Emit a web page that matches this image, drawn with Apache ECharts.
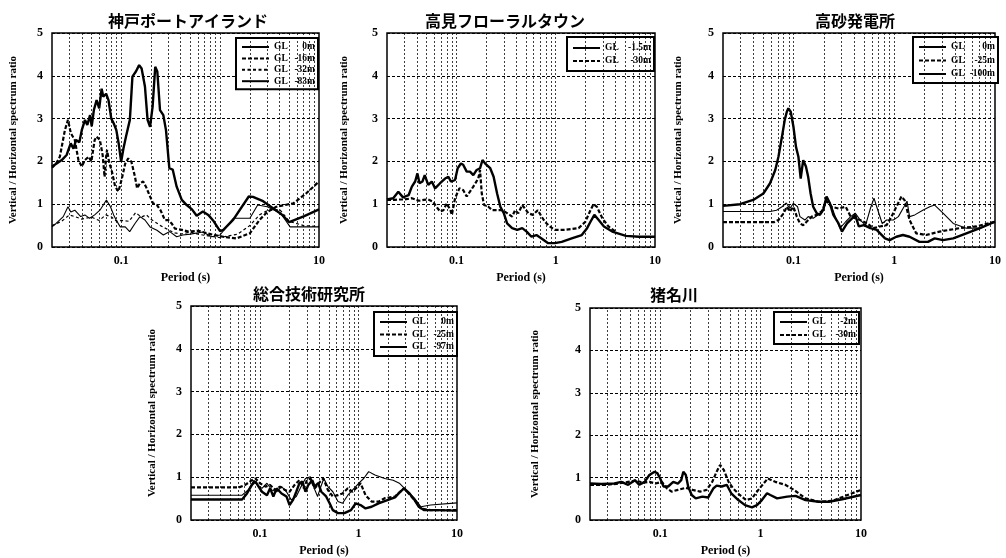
<!DOCTYPE html>
<html><head><meta charset="utf-8">
<script src="https://cdn.jsdelivr.net/npm/echarts@6/dist/echarts.min.js"></script>
<style>html,body{margin:0;padding:0;background:#fff}#c{width:1006px;height:558px}</style>
</head><body><div id="c"></div>
<script>
// ---------- tick labels / text ----------
const titles = ['神戸ポートアイランド', '高見フローラルタウン', '高砂発電所', '総合技術研究所', '猪名川'];
const xTickLabels = ['0.1', '1', '10'];
const yTicks = [0, 1, 2, 3, 4, 5];
const xName = 'Period (s)';
const yName = 'Vertical / Horizontal spectrum ratio';

const kobeNames = ['GL 0m', 'GL -16m', 'GL -32m', 'GL -83m'];
const takamiNames = ['GL -1.5m', 'GL -30m'];
const takasagoNames = ['GL 0m', 'GL -25m', 'GL -100m'];
const sogoNames = ['GL 0m', 'GL -25m', 'GL -97m'];
const inagawaNames = ['GL -2m', 'GL -30m'];

// ---------- data: [period (s), ratio] ----------
const kobe_GL0 = [[0.02,1.88],[0.0223,1.95],[0.0251,2.03],[0.0281,2.15],[0.0309,2.42],[0.033,2.3],[0.035,2.5],[0.0378,2.45],[0.04,2.73],[0.0431,2.97],[0.0455,2.85],[0.0485,3.08],[0.0504,2.82],[0.053,3.2],[0.0565,3.43],[0.06,3.24],[0.0635,3.7],[0.066,3.51],[0.0705,3.58],[0.0745,3.43],[0.0795,3.0],[0.084,2.89],[0.0894,2.73],[0.0944,2.42],[0.1,1.99],[0.1055,2.3],[0.112,2.58],[0.1225,2.97],[0.13,3.98],[0.141,4.1],[0.152,4.25],[0.161,4.17],[0.174,3.75],[0.185,2.97],[0.196,2.81],[0.208,3.28],[0.221,4.21],[0.232,4.1],[0.247,3.2],[0.267,3.08],[0.284,2.73],[0.307,1.84],[0.332,1.81],[0.364,1.41],[0.41,1.1],[0.46,0.98],[0.52,0.88],[0.58,0.73],[0.67,0.83],[0.76,0.75],[0.85,0.62],[1.0,0.37],[1.08,0.4],[1.36,0.64],[1.95,1.18],[2.15,1.17],[2.72,1.07],[3.4,0.91],[4.2,0.76],[5.0,0.58],[7.1,0.72],[10,0.88]];
const kobe_GL16 = [[0.02,1.85],[0.022,1.95],[0.024,2.11],[0.027,2.73],[0.029,2.97],[0.031,2.66],[0.034,2.5],[0.037,2.03],[0.04,1.88],[0.043,2.03],[0.047,2.11],[0.05,2.0],[0.054,2.5],[0.0565,2.58],[0.061,2.5],[0.065,2.15],[0.068,1.64],[0.0705,2.11],[0.072,2.27],[0.076,1.95],[0.08,1.8],[0.087,1.41],[0.094,1.3],[0.101,1.57],[0.11,1.95],[0.118,2.07],[0.127,1.99],[0.138,1.64],[0.145,1.37],[0.155,1.49],[0.167,1.53],[0.178,1.41],[0.196,1.18],[0.21,1.02],[0.23,0.98],[0.25,0.86],[0.277,0.63],[0.3,0.63],[0.324,0.55],[0.35,0.43],[0.41,0.4],[0.48,0.36],[0.6,0.38],[0.8,0.3],[1.07,0.24],[1.46,0.2],[2.0,0.32],[2.5,0.63],[3.0,0.82],[3.7,0.94],[5.5,1.02],[7.4,1.25],[10,1.53]];
const kobe_GL32 = [[0.02,0.5],[0.025,0.6],[0.03,0.75],[0.035,0.7],[0.04,0.65],[0.05,0.7],[0.06,0.62],[0.07,0.75],[0.08,0.7],[0.09,0.6],[0.1,0.62],[0.12,0.6],[0.14,0.8],[0.16,0.7],[0.18,0.75],[0.2,0.65],[0.25,0.5],[0.3,0.4],[0.35,0.33],[0.4,0.3],[0.5,0.35],[0.6,0.3],[0.8,0.25],[1.0,0.22],[1.5,0.3],[2.0,0.5],[2.5,0.75],[3.0,0.85],[4.0,0.88],[5.0,0.6],[7.0,0.5],[10,0.48]];
const kobe_GL83 = [[0.02,0.47],[0.022,0.55],[0.026,0.71],[0.029,0.94],[0.031,0.82],[0.034,0.86],[0.039,0.71],[0.043,0.75],[0.048,0.67],[0.054,0.75],[0.061,0.86],[0.066,0.98],[0.071,1.1],[0.078,0.94],[0.084,0.75],[0.089,0.63],[0.098,0.47],[0.11,0.47],[0.122,0.36],[0.138,0.55],[0.155,0.71],[0.174,0.63],[0.196,0.47],[0.23,0.39],[0.267,0.28],[0.31,0.36],[0.364,0.24],[0.42,0.28],[0.5,0.3],[0.67,0.35],[0.82,0.24],[1.0,0.28],[1.36,0.67],[2.0,0.67],[2.4,0.98],[3.0,0.94],[4.1,0.79],[5.1,0.47],[10,0.47]];

const takami_GL15 = [[0.02,1.11],[0.0231,1.14],[0.026,1.29],[0.029,1.16],[0.033,1.21],[0.0356,1.41],[0.0384,1.53],[0.0405,1.72],[0.0425,1.49],[0.0455,1.53],[0.048,1.68],[0.052,1.45],[0.0565,1.53],[0.061,1.37],[0.0685,1.49],[0.0769,1.6],[0.083,1.64],[0.088,1.53],[0.097,1.57],[0.103,1.84],[0.111,1.95],[0.117,1.92],[0.127,1.76],[0.137,1.76],[0.148,1.68],[0.16,1.8],[0.173,1.84],[0.183,2.03],[0.195,1.95],[0.219,1.84],[0.237,1.64],[0.257,1.25],[0.277,0.94],[0.3,0.79],[0.324,0.55],[0.364,0.44],[0.41,0.4],[0.46,0.44],[0.51,0.36],[0.57,0.24],[0.64,0.28],[0.72,0.2],[0.84,0.09],[0.98,0.09],[1.15,0.12],[1.45,0.2],[1.83,0.28],[2.07,0.44],[2.24,0.59],[2.45,0.75],[2.71,0.63],[3.06,0.48],[3.71,0.36],[5.1,0.26],[6.9,0.24],[10,0.24]];
const takami_GL30 = [[0.02,1.1],[0.024,1.1],[0.026,1.11],[0.03,1.11],[0.0356,1.14],[0.042,1.08],[0.047,1.1],[0.052,1.11],[0.058,1.06],[0.063,0.94],[0.0685,0.83],[0.074,0.86],[0.08,1.02],[0.087,0.86],[0.09,0.75],[0.094,0.98],[0.097,1.14],[0.107,1.37],[0.117,1.33],[0.127,1.18],[0.148,1.41],[0.166,1.6],[0.173,1.8],[0.18,1.25],[0.19,0.98],[0.21,0.94],[0.23,0.86],[0.257,0.86],[0.29,0.86],[0.324,0.79],[0.364,0.71],[0.39,0.86],[0.42,0.79],[0.46,0.98],[0.49,0.9],[0.53,0.79],[0.59,0.75],[0.66,0.86],[0.72,0.71],[0.78,0.59],[0.87,0.48],[0.98,0.4],[1.24,0.4],[1.7,0.44],[1.99,0.59],[2.24,0.86],[2.4,1.0],[2.6,0.94],[2.95,0.67],[3.4,0.48],[4.0,0.36]];

const takasago_GL0 = [[0.02,0.96],[0.0295,1.0],[0.0399,1.1],[0.0503,1.25],[0.0586,1.49],[0.066,1.8],[0.071,2.11],[0.077,2.58],[0.082,2.97],[0.086,3.16],[0.089,3.24],[0.094,3.16],[0.1,2.81],[0.106,2.34],[0.112,2.11],[0.118,1.6],[0.125,2.03],[0.133,1.88],[0.14,1.64],[0.148,1.25],[0.157,0.94],[0.17,0.79],[0.183,0.75],[0.197,0.86],[0.213,1.18],[0.23,1.02],[0.249,0.75],[0.28,0.55],[0.303,0.36],[0.34,0.55],[0.382,0.67],[0.41,0.75],[0.445,0.48],[0.5,0.51],[0.58,0.44],[0.67,0.4],[0.81,0.2],[0.9,0.16],[1.05,0.24],[1.22,0.28],[1.42,0.24],[1.78,0.12],[2.16,0.12],[2.52,0.2],[3.05,0.16],[3.85,0.2],[5.2,0.32],[7.1,0.44],[10,0.59]];
const takasago_GL25 = [[0.02,0.58],[0.064,0.58],[0.071,0.63],[0.08,0.79],[0.086,0.94],[0.092,0.83],[0.1,0.94],[0.108,0.71],[0.116,0.55],[0.125,0.51],[0.135,0.59],[0.152,0.71],[0.17,0.75],[0.19,0.83],[0.213,1.07],[0.24,0.94],[0.28,0.9],[0.33,0.94],[0.37,0.71],[0.41,0.67],[0.46,0.63],[0.54,0.55],[0.62,0.44],[0.72,0.48],[0.84,0.51],[0.94,0.71],[1.05,0.94],[1.18,1.18],[1.27,1.09],[1.42,0.63],[1.65,0.32],[2.07,0.28],[2.82,0.36],[4.45,0.44],[6.5,0.48],[10,0.59]];
const takasago_GL100 = [[0.02,0.83],[0.0586,0.83],[0.068,0.86],[0.077,0.94],[0.085,1.03],[0.092,0.9],[0.1,1.02],[0.11,0.94],[0.116,0.71],[0.13,0.63],[0.14,0.71],[0.157,0.67],[0.176,0.75],[0.197,0.86],[0.217,1.14],[0.24,0.94],[0.26,0.71],[0.29,0.44],[0.33,0.59],[0.37,0.71],[0.41,0.79],[0.46,0.63],[0.52,0.51],[0.58,0.9],[0.63,1.14],[0.67,0.94],[0.76,0.55],[0.84,0.63],[0.98,0.63],[1.1,0.71],[1.25,0.94],[1.34,1.07],[1.42,0.71],[1.6,0.75],[1.92,0.86],[2.25,0.94],[2.52,0.98],[3.05,0.79],[3.85,0.55],[5.2,0.44],[7.1,0.44],[10,0.59]];

const sogo_GL0 = [[0.02,0.48],[0.066,0.48],[0.074,0.62],[0.083,0.82],[0.09,0.9],[0.097,0.78],[0.105,0.66],[0.118,0.58],[0.127,0.74],[0.137,0.55],[0.148,0.74],[0.166,0.62],[0.186,0.55],[0.2,0.35],[0.217,0.47],[0.234,0.66],[0.252,0.86],[0.27,0.9],[0.29,0.66],[0.31,0.82],[0.34,0.93],[0.36,0.78],[0.39,0.86],[0.42,0.66],[0.47,0.55],[0.51,0.39],[0.55,0.23],[0.62,0.16],[0.72,0.16],[0.84,0.23],[0.94,0.39],[1.05,0.35],[1.18,0.27],[1.36,0.31],[1.6,0.39],[2.0,0.47],[2.35,0.53],[2.6,0.64],[2.9,0.74],[3.3,0.62],[3.7,0.47],[4.1,0.31],[4.65,0.23],[6.3,0.23],[10,0.22]];
const sogo_GL25 = [[0.02,0.76],[0.061,0.76],[0.071,0.82],[0.083,0.93],[0.09,0.97],[0.1,0.86],[0.114,0.78],[0.127,0.82],[0.143,0.7],[0.16,0.78],[0.18,0.7],[0.2,0.66],[0.225,0.82],[0.252,0.93],[0.28,0.74],[0.3,0.93],[0.325,0.97],[0.36,0.74],[0.41,0.9],[0.44,0.97],[0.49,0.7],[0.55,0.55],[0.62,0.58],[0.69,0.62],[0.78,0.74],[0.87,0.66],[0.98,0.78],[1.05,0.86],[1.18,0.58],[1.36,0.43],[1.6,0.43],[1.85,0.51],[2.35,0.55],[2.9,0.74],[3.7,0.47],[4.3,0.27],[5.4,0.23],[10,0.23]];
const sogo_GL97 = [[0.02,0.58],[0.066,0.58],[0.076,0.7],[0.087,0.93],[0.094,0.82],[0.105,0.74],[0.118,0.86],[0.132,0.7],[0.148,0.66],[0.166,0.78],[0.186,0.66],[0.208,0.47],[0.234,0.55],[0.262,0.78],[0.29,0.97],[0.325,1.01],[0.35,0.78],[0.385,0.55],[0.41,0.74],[0.445,0.97],[0.49,0.78],[0.55,0.66],[0.62,0.43],[0.69,0.39],[0.78,0.58],[0.87,0.7],[1.01,0.86],[1.13,0.97],[1.27,1.13],[1.47,1.05],[1.85,0.97],[2.25,0.93],[2.6,0.86],[3.05,0.7],[3.7,0.51],[4.3,0.31],[5.4,0.35],[10,0.4]];

const inagawa_GL2 = [[0.02,0.86],[0.0259,0.85],[0.035,0.86],[0.041,0.9],[0.048,0.83],[0.056,0.94],[0.062,0.83],[0.07,0.9],[0.078,1.06],[0.088,1.14],[0.094,1.1],[0.1,0.98],[0.108,0.79],[0.12,0.79],[0.135,0.9],[0.15,0.86],[0.162,0.94],[0.17,1.14],[0.18,1.06],[0.19,0.79],[0.206,0.59],[0.226,0.51],[0.263,0.55],[0.3,0.53],[0.34,0.75],[0.365,0.81],[0.41,0.79],[0.46,0.83],[0.51,0.63],[0.6,0.47],[0.7,0.35],[0.82,0.3],[0.92,0.35],[1.03,0.47],[1.16,0.63],[1.25,0.59],[1.46,0.51],[1.84,0.55],[2.23,0.57],[2.8,0.47],[3.8,0.43],[4.8,0.43],[6.5,0.49],[10,0.59]];
const inagawa_GL30 = [[0.02,0.83],[0.03,0.83],[0.038,0.86],[0.048,0.9],[0.058,0.93],[0.067,0.88],[0.078,0.9],[0.09,0.86],[0.104,0.9],[0.116,0.75],[0.13,0.67],[0.15,0.71],[0.18,0.76],[0.21,0.71],[0.25,0.67],[0.29,0.71],[0.33,0.9],[0.365,1.14],[0.395,1.3],[0.43,1.18],[0.48,0.9],[0.53,0.75],[0.62,0.59],[0.72,0.47],[0.82,0.51],[0.95,0.71],[1.07,0.86],[1.18,0.98],[1.4,0.9],[1.76,0.83],[2.15,0.71],[2.8,0.51],[3.8,0.43],[5.2,0.45],[7.0,0.57],[10,0.71]];

// ---------- layout & style ----------
const X_MIN = 0.02, X_MAX = 10;
const SERIF = '"Liberation Serif", "DejaVu Serif", serif';
const JP = '"Noto Sans CJK JP", sans-serif';
const THICK = {width: 2.4, type: 'solid'};
const THICK_DASH = {width: 2.2, type: [4, 2]};
const THIN_DASH = {width: 1.2, type: [3, 2.5]};
const THIN = {width: 1.1, type: 'solid'};

// vertical grid lines at 2..9 × decade
const gridX = [];
[0.01, 0.1, 1].forEach(d => { for (let k = 1; k <= 9; k++) { const v = +(k * d).toPrecision(6); if (v > X_MIN && v < X_MAX) gridX.push(v); } });

const panels = [
  {title: titles[0], tx: 183, ty: 8, grid: {left: 52, top: 33, width: 267, height: 214}, yGap: 33,
   legend: {left: 236, top: 38, gap: 1.4, padTop: 4, padBot: 3, lw: 14, vw: 27},
   series: [[kobeNames[0], kobe_GL0, THICK], [kobeNames[1], kobe_GL16, THICK_DASH], [kobeNames[2], kobe_GL32, THIN_DASH], [kobeNames[3], kobe_GL83, THIN]]},
  {title: titles[1], tx: 500, ty: 8, grid: {left: 387, top: 33, width: 268, height: 214}, yGap: 37,
   legend: {left: 567, top: 37, gap: 3, padTop: 6, padBot: 5, lw: 14, vw: 32},
   series: [[takamiNames[0], takami_GL15, THICK], [takamiNames[1], takami_GL30, THICK_DASH]]},
  {title: titles[2], tx: 850, ty: 8, grid: {left: 723, top: 33, width: 272, height: 214}, yGap: 39,
   legend: {left: 913, top: 37, gap: 3.5, padTop: 5, padBot: 4, lw: 14, vw: 30},
   series: [[takasagoNames[0], takasago_GL0, THICK], [takasagoNames[1], takasago_GL25, THICK_DASH], [takasagoNames[2], takasago_GL100, THIN]]},
  {title: titles[3], tx: 304, ty: 281, grid: {left: 191, top: 306, width: 266, height: 214}, yGap: 33,
   legend: {left: 374, top: 312, gap: 2.5, padTop: 5, padBot: 4, lw: 14, vw: 28},
   series: [[sogoNames[0], sogo_GL0, THICK], [sogoNames[1], sogo_GL25, THICK_DASH], [sogoNames[2], sogo_GL97, THIN]]},
  {title: titles[4], tx: 669, ty: 282, grid: {left: 590, top: 308, width: 271, height: 212}, yGap: 49,
   legend: {left: 774, top: 312, gap: 3, padTop: 5, padBot: 4, lw: 14, vw: 30},
   series: [[inagawaNames[0], inagawa_GL2, THICK], [inagawaNames[1], inagawa_GL30, THICK_DASH]]}
];

const fmtNum = v => String(+(+v).toPrecision(6));

const option = {
  animation: false,
  backgroundColor: '#fff',
  color: ['#000'],
  title: [], grid: [], xAxis: [], yAxis: [], legend: [], series: []
};

panels.forEach((p, i) => {
  option.title.push({text: p.title, left: p.tx, top: p.ty, textAlign: 'center',
    textStyle: {fontFamily: JP, fontWeight: 'bold', fontSize: 16, color: '#000'}});
  option.grid.push(Object.assign({show: true, borderColor: '#000', borderWidth: 1.5, backgroundColor: 'transparent'}, p.grid));
  option.xAxis.push({type: 'log', logBase: 10, gridIndex: i, min: X_MIN, max: X_MAX,
    name: xName, nameLocation: 'middle', nameGap: 25,
    nameTextStyle: {fontFamily: SERIF, fontWeight: 'bold', fontSize: 12, color: '#000'},
    axisLine: {show: false}, axisTick: {show: false}, splitLine: {show: false},
    axisLabel: {margin: 8, fontFamily: SERIF, fontWeight: 'bold', fontSize: 12, color: '#000',
      showMinLabel: true, showMaxLabel: true,
      formatter: v => { const s = fmtNum(v); return xTickLabels.includes(s) ? s : ''; }}});
  option.yAxis.push({type: 'value', gridIndex: i, min: yTicks[0], max: yTicks[yTicks.length - 1], interval: 1,
    name: yName, nameLocation: 'middle', nameGap: p.yGap,
    nameTextStyle: {fontFamily: SERIF, fontWeight: 'bold', fontSize: 11, color: '#000'},
    axisLine: {show: false}, axisTick: {show: false},
    splitLine: {show: true, lineStyle: {color: '#000', type: [3, 2], width: 1}},
    axisLabel: {margin: 9, fontFamily: SERIF, fontWeight: 'bold', fontSize: 12, color: '#000'}});
  // grid lines behind curves
  option.series.push({type: 'line', xAxisIndex: i, yAxisIndex: i, data: [], silent: true, z: 1,
    markLine: {silent: true, symbol: ['none', 'none'], animation: false, label: {show: false},
      lineStyle: {color: '#000', type: [2, 2], width: 0.9, opacity: 0.85},
      emphasis: {disabled: true},
      data: gridX.map(v => ({xAxis: v}))}});
  const names = [];
  p.series.forEach(([nm, data, st]) => {
    const id = 'p' + i + '|' + nm;
    names.push(id);
    option.series.push({type: 'line', name: id, xAxisIndex: i, yAxisIndex: i, data: data,
      symbol: 'none', z: 3, silent: true, itemStyle: {color: '#000', opacity: 0},
      lineStyle: {color: '#000', width: st.width, type: st.type}});
  });
  const L = p.legend;
  option.legend.push({data: names, orient: 'vertical', left: L.left, top: L.top,
    itemWidth: 27, itemHeight: 8, itemGap: L.gap,
    padding: [L.padTop, 3, L.padBot, 5], borderColor: '#000', borderWidth: 2, borderRadius: 0,
    backgroundColor: '#fff', selectedMode: false, inactiveColor: '#000',
    itemStyle: {opacity: 0, color: 'transparent', borderWidth: 0},
    formatter: name => { const t = name.split('|')[1].split(' '); return '{a|' + t[0] + '}{b|' + t[1] + '}'; },
    textStyle: {color: '#000', fontFamily: SERIF, fontWeight: 'bold', fontSize: 9.5,
      rich: {a: {width: L.lw, fontFamily: SERIF, fontWeight: 'bold', fontSize: 9.5, color: '#000'},
             b: {width: L.vw, align: 'right', fontFamily: SERIF, fontWeight: 'bold', fontSize: 9.5, color: '#000'}}}});
});

const chart = echarts.init(document.getElementById('c'), null, {renderer: 'canvas'});
chart.setOption(option);
</script></body></html>
